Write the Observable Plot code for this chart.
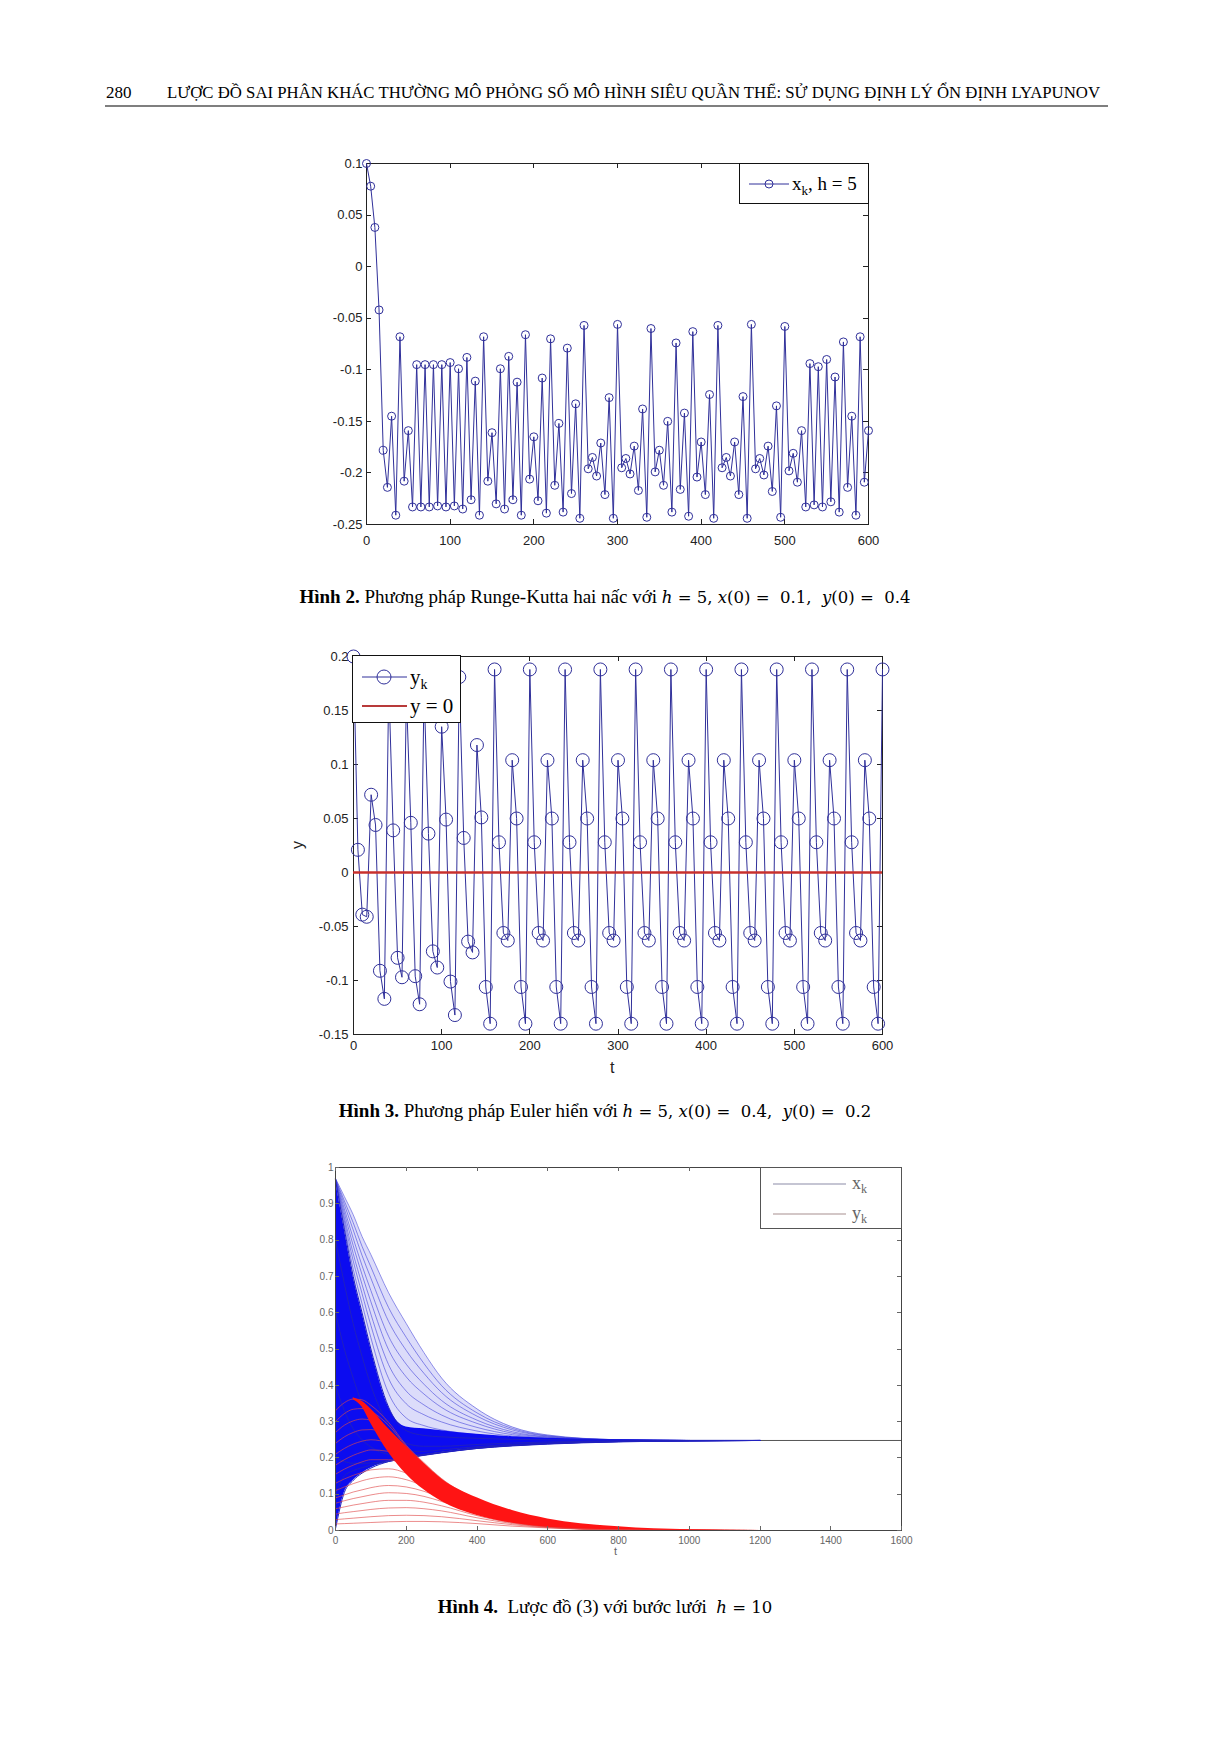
<!DOCTYPE html>
<html><head><meta charset="utf-8">
<script src="https://cdn.jsdelivr.net/npm/d3@7"></script>
<script src="https://cdn.jsdelivr.net/npm/@observablehq/plot@0.6"></script>
<style>
body{margin:0;background:#fff;}
#page{position:relative;width:1210px;height:1742px;background:#fff;overflow:hidden;font-family:"Liberation Serif","Times New Roman",serif;color:#000;}
.abs{position:absolute;}
.cap{position:absolute;left:0;width:1210px;text-align:center;font-size:19px;line-height:22px;white-space:pre;}
.m{font-family:"DejaVu Serif",serif;font-size:16.5px;}
.m i{font-style:italic;}
.legend{position:absolute;background:#fff;border:1px solid #111;box-sizing:border-box;}
.lab{position:absolute;font-family:"Liberation Sans",Arial,sans-serif;color:#222;}
</style></head><body><div id="page">
<svg class="abs" style="left:0;top:0" width="1210" height="120">
  <text x="106" y="98" font-size="17" font-family="Liberation Serif">280</text>
  <text x="167" y="98" font-size="17" font-family="Liberation Serif" textLength="933" lengthAdjust="spacingAndGlyphs">LƯỢC ĐỒ SAI PHÂN KHÁC THƯỜNG MÔ PHỎNG SỐ MÔ HÌNH SIÊU QUẦN THỂ: SỬ DỤNG ĐỊNH LÝ ỔN ĐỊNH LYAPUNOV</text>
  <line x1="105" x2="1108" y1="106" y2="106" stroke="#555" stroke-width="1.6"/>
</svg>
<div class="cap" style="top:586px"><b>Hình 2.</b> Phương pháp Runge-Kutta hai nấc với <span class="m"><i>h</i> = 5, <i>x</i>(0) =  0.1,  <i>y</i>(0) =  0.4</span></div>
<div class="cap" style="top:1100px"><b>Hình 3.</b> Phương pháp Euler hiển với <span class="m"><i>h</i> = 5, <i>x</i>(0) =  0.4,  <i>y</i>(0) =  0.2</span></div>
<div class="cap" style="top:1596px"><b>Hình 4.</b>  Lược đồ (3) với bước lưới  <span class="m"><i>h</i> = 10</span></div>
</div>
<script>
// ---------- Figure 2 data (Runge-Kutta, h = 5) ----------
const h1 = 5;
const xk1 = [
  0.1, 0.078, 0.038, -0.042, -0.178, -0.214, -0.145, -0.241,
  -0.068, -0.208, -0.159, -0.233, -0.095, -0.233, -0.095, -0.233,
  -0.095, -0.232, -0.095, -0.233, -0.093, -0.232, -0.099, -0.235,
  -0.088, -0.226, -0.111, -0.241, -0.068, -0.208, -0.161, -0.230,
  -0.099, -0.235, -0.087, -0.226, -0.112, -0.241, -0.066, -0.206,
  -0.165, -0.227, -0.108, -0.239, -0.070, -0.212, -0.152, -0.238,
  -0.079, -0.220, -0.133, -0.244, -0.057, -0.196, -0.185, -0.203,
  -0.171, -0.221, -0.127, -0.244, -0.056, -0.195, -0.186, -0.201,
  -0.174, -0.217, -0.138, -0.243, -0.060, -0.199, -0.178, -0.212,
  -0.150, -0.238, -0.074, -0.216, -0.142, -0.242, -0.063, -0.204,
  -0.170, -0.221, -0.124, -0.244, -0.057, -0.195, -0.185, -0.203,
  -0.170, -0.221, -0.126, -0.244, -0.056, -0.196, -0.186, -0.202,
  -0.174, -0.218, -0.135, -0.243, -0.058, -0.198, -0.181, -0.209,
  -0.159, -0.233, -0.094, -0.231, -0.097, -0.233, -0.090, -0.228,
  -0.107, -0.238, -0.073, -0.214, -0.145, -0.241, -0.068, -0.209,
  -0.159
];
const xTicks1 = [0, 100, 200, 300, 400, 500, 600];
const yTicks1 = [-0.25, -0.2, -0.15, -0.1, -0.05, 0, 0.05, 0.1];

// ---------- Figure 3 data (Euler, h = 5) ----------
const h2 = 5;
const yk2 = [
  0.2, 0.021, -0.039, -0.041, 0.072, 0.044, -0.091, -0.117,
  0.175, 0.039, -0.079, -0.097, 0.165, 0.046, -0.096, -0.122,
  0.17, 0.036, -0.073, -0.088, 0.135, 0.049, -0.101, -0.132,
  0.181, 0.032, -0.064, -0.074, 0.118, 0.051, -0.106, -0.140,
  0.188, 0.028, -0.056, -0.063, 0.104, 0.050, -0.106, -0.140,
  0.188, 0.028, -0.056, -0.063, 0.104, 0.050, -0.106, -0.140,
  0.188, 0.028, -0.056, -0.063, 0.104, 0.050, -0.106, -0.140,
  0.188, 0.028, -0.056, -0.063, 0.104, 0.050, -0.106, -0.140,
  0.188, 0.028, -0.056, -0.063, 0.104, 0.050, -0.106, -0.140,
  0.188, 0.028, -0.056, -0.063, 0.104, 0.050, -0.106, -0.140,
  0.188, 0.028, -0.056, -0.063, 0.104, 0.050, -0.106, -0.140,
  0.188, 0.028, -0.056, -0.063, 0.104, 0.050, -0.106, -0.140,
  0.188, 0.028, -0.056, -0.063, 0.104, 0.050, -0.106, -0.140,
  0.188, 0.028, -0.056, -0.063, 0.104, 0.050, -0.106, -0.140,
  0.188, 0.028, -0.056, -0.063, 0.104, 0.050, -0.106, -0.140,
  0.188
];
const yRef2 = 0;
const xTicks2 = [0, 100, 200, 300, 400, 500, 600];
const yTicks2 = [-0.15, -0.1, -0.05, 0, 0.05, 0.1, 0.15, 0.2];

// ---------- Figure 4 data (scheme (3), h = 10) ----------
const T3 = [0, 25, 50, 75, 100, 150, 200, 250, 300, 400, 500, 600, 800, 1000, 1200];
const xEq3 = 0.248;
const blueFan = [
  [0.97, 0.92, 0.87, 0.81, 0.76, 0.655, 0.57, 0.49, 0.42, 0.335, 0.285, 0.263, 0.25, 0.248, 0.248],
  [0.969, 0.908, 0.848, 0.783, 0.726, 0.614, 0.532, 0.46, 0.399, 0.324, 0.281, 0.261, 0.25, 0.248, 0.248],
  [0.969, 0.898, 0.828, 0.758, 0.695, 0.576, 0.496, 0.433, 0.38, 0.315, 0.277, 0.26, 0.25, 0.248, 0.248],
  [0.968, 0.886, 0.805, 0.73, 0.661, 0.535, 0.458, 0.403, 0.358, 0.304, 0.272, 0.258, 0.25, 0.248, 0.248],
  [0.967, 0.875, 0.785, 0.705, 0.63, 0.498, 0.423, 0.376, 0.339, 0.295, 0.268, 0.257, 0.249, 0.248, 0.248],
  [0.967, 0.863, 0.763, 0.678, 0.596, 0.457, 0.384, 0.346, 0.318, 0.284, 0.264, 0.255, 0.249, 0.248, 0.248],
  [0.966, 0.853, 0.743, 0.653, 0.565, 0.419, 0.349, 0.319, 0.299, 0.274, 0.26, 0.253, 0.249, 0.248, 0.248],
  [0.966, 0.841, 0.72, 0.625, 0.531, 0.378, 0.31, 0.289, 0.277, 0.264, 0.255, 0.252, 0.249, 0.248, 0.248]
];
const blueLow = [
  [0.965, 0.83, 0.70, 0.60, 0.50, 0.34, 0.275, 0.262, 0.258, 0.254, 0.251, 0.25, 0.249, 0.248, 0.248],
  [0.80, 0.68, 0.57, 0.48, 0.40, 0.29, 0.24, 0.232, 0.232, 0.237, 0.241, 0.244, 0.246, 0.247, 0.248],
  [0.60, 0.50, 0.42, 0.35, 0.30, 0.24, 0.218, 0.218, 0.222, 0.231, 0.237, 0.241, 0.246, 0.247, 0.248],
  [0.40, 0.33, 0.28, 0.25, 0.23, 0.21, 0.206, 0.21, 0.216, 0.228, 0.235, 0.24, 0.245, 0.247, 0.248],
  [0.20, 0.19, 0.185, 0.185, 0.186, 0.192, 0.2, 0.207, 0.214, 0.226, 0.234, 0.239, 0.245, 0.247, 0.248],
  [0.10, 0.15, 0.165, 0.173, 0.18, 0.19, 0.2, 0.208, 0.215, 0.227, 0.234, 0.239, 0.245, 0.247, 0.248],
  [0.005, 0.105, 0.138, 0.158, 0.172, 0.19, 0.2, 0.208, 0.215, 0.226, 0.233, 0.238, 0.244, 0.247, 0.248]
];
const blueDenseTop = [0.965, 0.83, 0.70, 0.60, 0.50, 0.34, 0.285, 0.28, 0.275, 0.265, 0.258, 0.254, 0.25, 0.248, 0.248];
const blueDenseBottom = [0.0, 0.105, 0.138, 0.158, 0.172, 0.19, 0.2, 0.208, 0.215, 0.226, 0.233, 0.238, 0.244, 0.247, 0.248];
const redFan = [
  [0.018, 0.019, 0.02, 0.021, 0.022, 0.024, 0.025, 0.025, 0.024, 0.019, 0.012, 0.007, 0.002, 0.0005, 0],
  [0.03, 0.032, 0.034, 0.036, 0.038, 0.041, 0.042, 0.041, 0.038, 0.027, 0.016, 0.008, 0.002, 0.0005, 0],
  [0.045, 0.049, 0.052, 0.055, 0.058, 0.062, 0.063, 0.06, 0.054, 0.035, 0.019, 0.009, 0.002, 0.0005, 0],
  [0.06, 0.065, 0.07, 0.074, 0.078, 0.083, 0.083, 0.078, 0.068, 0.041, 0.021, 0.01, 0.002, 0.0005, 0],
  [0.075, 0.082, 0.088, 0.093, 0.098, 0.104, 0.102, 0.094, 0.08, 0.046, 0.023, 0.01, 0.002, 0.0005, 0],
  [0.09, 0.098, 0.106, 0.112, 0.118, 0.124, 0.12, 0.108, 0.09, 0.05, 0.024, 0.011, 0.002, 0.0005, 0],
  [0.11, 0.12, 0.129, 0.137, 0.143, 0.148, 0.14, 0.122, 0.1, 0.054, 0.026, 0.011, 0.002, 0.0005, 0],
  [0.13, 0.142, 0.152, 0.16, 0.167, 0.17, 0.158, 0.134, 0.108, 0.058, 0.028, 0.012, 0.002, 0.0005, 0],
  [0.155, 0.169, 0.18, 0.189, 0.195, 0.195, 0.176, 0.146, 0.115, 0.062, 0.03, 0.013, 0.002, 0.0005, 0],
  [0.18, 0.195, 0.207, 0.216, 0.222, 0.218, 0.192, 0.157, 0.122, 0.066, 0.032, 0.014, 0.003, 0.0005, 0],
  [0.21, 0.226, 0.238, 0.246, 0.25, 0.24, 0.207, 0.167, 0.128, 0.07, 0.034, 0.015, 0.003, 0.0005, 0],
  [0.24, 0.258, 0.27, 0.277, 0.278, 0.26, 0.218, 0.175, 0.134, 0.074, 0.037, 0.016, 0.003, 0.0006, 0],
  [0.27, 0.29, 0.302, 0.307, 0.304, 0.277, 0.226, 0.18, 0.138, 0.078, 0.04, 0.018, 0.004, 0.0007, 0],
  [0.30, 0.322, 0.334, 0.336, 0.328, 0.29, 0.232, 0.184, 0.141, 0.082, 0.043, 0.02, 0.004, 0.0008, 0],
  [0.33, 0.352, 0.362, 0.36, 0.345, 0.298, 0.235, 0.187, 0.143, 0.085, 0.046, 0.022, 0.005, 0.001, 0]
];
const redBandTop = [null, null, 0.366, 0.356, 0.335, 0.28, 0.232, 0.185, 0.142, 0.09, 0.055, 0.032, 0.01, 0.002, 0];
const redBandBottom = [null, null, 0.36, 0.34, 0.295, 0.215, 0.155, 0.112, 0.08, 0.041, 0.02, 0.009, 0.002, 0.0003, 0];
const xTicks3 = [0, 200, 400, 600, 800, 1000, 1200, 1400, 1600];
const yTicks3 = [0, 0.1, 0.2, 0.3, 0.4, 0.5, 0.6, 0.7, 0.8, 0.9, 1];

// ---------- helpers ----------
const NAVY = "#30309a";
function inwardTicks(xt, yt, len, color) {
  return (index, scales, values, dim) => {
    const g = d3.create("svg:g").attr("stroke", color).attr("stroke-width", 1).attr("fill", "none");
    const top = dim.marginTop, bottom = dim.height - dim.marginBottom;
    const left = dim.marginLeft, right = dim.width - dim.marginRight;
    for (const t of xt) {
      const x = Math.round(scales.x(t)) + 0.5;
      g.append("line").attr("x1", x).attr("x2", x).attr("y1", bottom).attr("y2", bottom - len);
      g.append("line").attr("x1", x).attr("x2", x).attr("y1", top).attr("y2", top + len);
    }
    for (const v of yt) {
      const y = Math.round(scales.y(v)) + 0.5;
      g.append("line").attr("y1", y).attr("y2", y).attr("x1", left).attr("x2", left + len);
      g.append("line").attr("y1", y).attr("y2", y).attr("x1", right).attr("x2", right - len);
    }
    return g.node();
  };
}
function place(node, left, top) {
  node.style.position = "absolute";
  node.style.left = left + "px";
  node.style.top = top + "px";
  document.getElementById("page").appendChild(node);
}
const fmt = d => String(d);

// ---------- Figure 2 ----------
const data1 = xk1.map((v, i) => ({t: i * h1, v}));
const plot1 = Plot.plot({
  width: 582, height: 421, marginLeft: 60, marginTop: 20, marginRight: 20, marginBottom: 40,
  x: {domain: [0, 600]}, y: {domain: [-0.25, 0.1]},
  style: {fontFamily: "'Liberation Sans', Arial, sans-serif", fontSize: "13px", color: "#222", background: "transparent", overflow: "visible"},
  marks: [
    Plot.axisX({ticks: xTicks1, tickSize: 0, tickPadding: 11, tickFormat: fmt, label: null}),
    Plot.axisY({ticks: yTicks1, tickSize: 0, tickPadding: 4, tickFormat: fmt, label: null}),
    Plot.frame({stroke: "#222"}),
    inwardTicks(xTicks1, yTicks1, 5, "#222"),
    Plot.line(data1, {x: "t", y: "v", stroke: NAVY, strokeWidth: 1}),
    Plot.dot(data1, {x: "t", y: "v", r: 4, stroke: NAVY, fill: "none", strokeWidth: 1})
  ]
});
place(plot1, 306, 143);

const lg1 = document.createElement("div");
lg1.className = "legend";
Object.assign(lg1.style, {left: "739px", top: "163px", width: "130px", height: "41px"});
lg1.innerHTML = `<svg width="128" height="39" style="position:absolute;left:0;top:0">
  <line x1="9" x2="49" y1="20" y2="20" stroke="${NAVY}" stroke-width="1"/>
  <circle cx="29" cy="20" r="4" fill="none" stroke="${NAVY}" stroke-width="1"/>
  <text x="52" y="26" font-family="Liberation Serif" font-size="19">x<tspan font-size="13" dy="5">k</tspan><tspan dy="-5">, h = 5</tspan></text>
</svg>`;
document.getElementById("page").appendChild(lg1);

// ---------- Figure 3 ----------
const data2 = yk2.map((v, i) => ({t: i * h2, v}));
const plot2 = Plot.plot({
  width: 619, height: 448, marginLeft: 70, marginTop: 20, marginRight: 20, marginBottom: 50,
  x: {domain: [0, 600]}, y: {domain: [-0.15, 0.2]},
  style: {fontFamily: "'Liberation Sans', Arial, sans-serif", fontSize: "13px", color: "#222", background: "transparent", overflow: "visible"},
  marks: [
    Plot.axisX({ticks: xTicks2, tickSize: 0, tickPadding: 6, tickFormat: fmt, label: null}),
    Plot.axisY({ticks: yTicks2, tickSize: 0, tickPadding: 5, tickFormat: fmt, label: null}),
    Plot.frame({stroke: "#222"}),
    inwardTicks(xTicks2, yTicks2, 5, "#222"),
    Plot.line(data2, {x: "t", y: "v", stroke: NAVY, strokeWidth: 1}),
    Plot.dot(data2, {x: "t", y: "v", r: 6.5, stroke: NAVY, fill: "none", strokeWidth: 1}),
    Plot.ruleY([yRef2], {stroke: "#c8302c", strokeWidth: 2.5})
  ]
});
place(plot2, 283, 636);

const ylab2 = document.createElement("div");
ylab2.className = "lab";
Object.assign(ylab2.style, {left: "294px", top: "836px", fontSize: "16px", transform: "rotate(-90deg)"});
ylab2.textContent = "y";
document.getElementById("page").appendChild(ylab2);
const tlab2 = document.createElement("div");
tlab2.className = "lab";
Object.assign(tlab2.style, {left: "610px", top: "1059px", fontSize: "16px"});
tlab2.textContent = "t";
document.getElementById("page").appendChild(tlab2);

const lg2 = document.createElement("div");
lg2.className = "legend";
Object.assign(lg2.style, {left: "352px", top: "655px", width: "109px", height: "68px", border: "1.5px solid #111"});
lg2.innerHTML = `<svg width="106" height="65" style="position:absolute;left:0;top:0">
  <line x1="9" x2="54" y1="21" y2="21" stroke="${NAVY}" stroke-width="1"/>
  <circle cx="31" cy="21" r="7" fill="none" stroke="${NAVY}" stroke-width="1"/>
  <text x="57" y="28" font-family="Liberation Serif" font-size="21">y<tspan font-size="14" dy="5">k</tspan></text>
  <line x1="9" x2="54" y1="50" y2="50" stroke="#b83a3a" stroke-width="2.2"/>
  <text x="57" y="57" font-family="Liberation Serif" font-size="21">y = 0</text>
</svg>`;
document.getElementById("page").appendChild(lg2);

// ---------- Figure 4 ----------
const long = (curves) => curves.flatMap((vals, k) => T3.map((t, i) => ({t, v: vals[i], k})));
const fanData = long(blueFan);
const lowData = long(blueLow);
const redData = long(redFan);
const blueBand = T3.map((t, i) => ({t, lo: blueDenseBottom[i], hi: blueDenseTop[i], top: blueFan[0][i]}));
const redBand = T3.map((t, i) => ({t, lo: redBandBottom[i], hi: redBandTop[i]}));
const plot3 = Plot.plot({
  width: 626, height: 423, marginLeft: 40, marginTop: 20, marginRight: 20, marginBottom: 40,
  x: {domain: [0, 1600]}, y: {domain: [0, 1]},
  style: {fontFamily: "'Liberation Sans', Arial, sans-serif", fontSize: "10px", color: "#666", background: "transparent", overflow: "visible"},
  marks: [
    Plot.axisX({ticks: xTicks3, tickSize: 0, tickPadding: 6, tickFormat: fmt, label: null}),
    Plot.axisY({ticks: yTicks3, tickSize: 0, tickPadding: 2, tickFormat: fmt, label: null}),
    Plot.areaY(blueBand, {x: "t", y1: "hi", y2: "top", fill: "#8a8af0", fillOpacity: 0.3, curve: "monotone-x"}),
    Plot.line(fanData, {x: "t", y: "v", z: "k", stroke: "#3a3ad8", strokeWidth: 0.8, strokeOpacity: 0.7, curve: "monotone-x"}),
    Plot.ruleY([xEq3], {stroke: "#555", strokeWidth: 1}),
    Plot.areaY(blueBand, {x: "t", y1: "lo", y2: "hi", fill: "#0c0cf0", curve: "monotone-x"}),
    Plot.line(lowData, {x: "t", y: "v", z: "k", stroke: "#2020c0", strokeWidth: 1, curve: "monotone-x"}),
    Plot.line(redData, {x: "t", y: "v", z: "k", stroke: "#e04848", strokeWidth: 0.8, strokeOpacity: 0.8, curve: "monotone-x"}),
    Plot.areaY(redBand, {x: "t", y1: "lo", y2: "hi", fill: "#ff1414", curve: "monotone-x"}),
    Plot.frame({stroke: "#444"}),
    inwardTicks(xTicks3, yTicks3, 4, "#666")
  ]
});
place(plot3, 295, 1147);

const tlab3 = document.createElement("div");
tlab3.className = "lab";
Object.assign(tlab3.style, {left: "614px", top: "1545px", fontSize: "11px", color: "#666"});
tlab3.textContent = "t";
document.getElementById("page").appendChild(tlab3);

const lg3 = document.createElement("div");
lg3.className = "legend";
Object.assign(lg3.style, {left: "760px", top: "1167px", width: "142px", height: "62px", border: "1px solid #555"});
lg3.innerHTML = `<svg width="140" height="60" style="position:absolute;left:0;top:0">
  <line x1="12" x2="85" y1="16" y2="16" stroke="#8c8ca8" stroke-width="1.2"/>
  <text x="91" y="21" font-family="Liberation Serif" font-size="18" fill="#666">x<tspan font-size="12" dy="4">k</tspan></text>
  <line x1="12" x2="85" y1="46" y2="46" stroke="#a89090" stroke-width="1.2"/>
  <text x="91" y="51" font-family="Liberation Serif" font-size="18" fill="#666">y<tspan font-size="12" dy="4">k</tspan></text>
</svg>`;
document.getElementById("page").appendChild(lg3);
</script>
</body></html>
